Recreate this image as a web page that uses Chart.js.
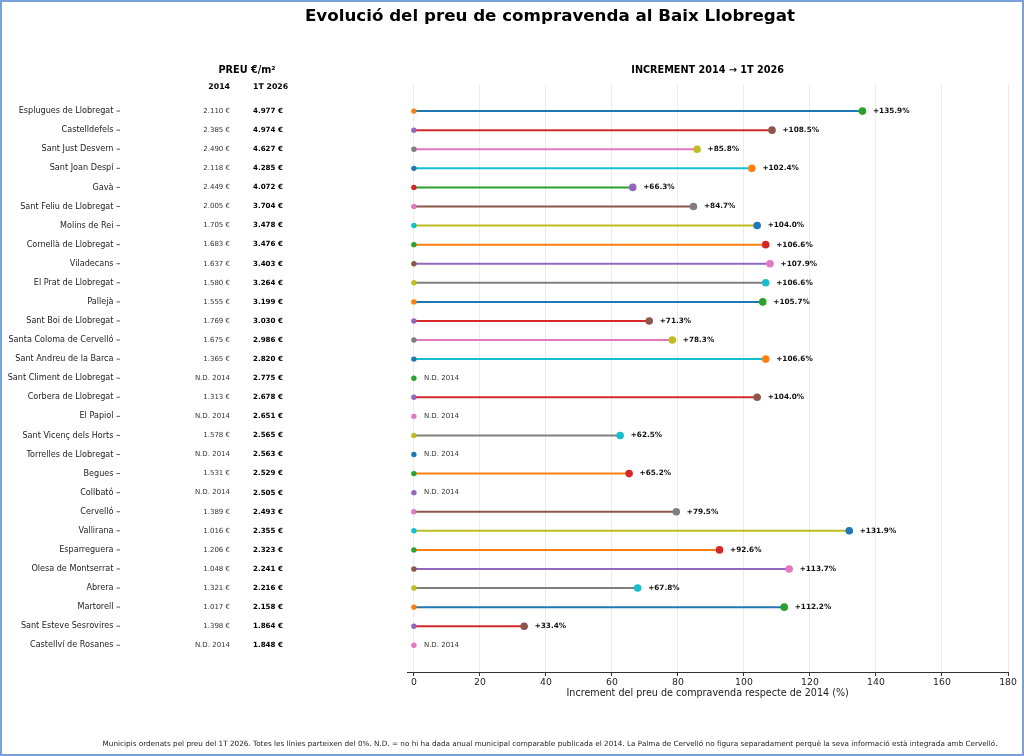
<!DOCTYPE html>
<html lang="ca">
<head>
<meta charset="UTF-8">
<title>Evolució del preu de compravenda al Baix Llobregat</title>
<style>
    html, body { margin: 0; padding: 0; background: #fff; }
    #wrap { width: 1024px; height: 756px; }
</style>
</head>
<body>
<div id="wrap"><canvas id="chart" width="1024" height="756"></canvas></div>
<script src="https://cdn.jsdelivr.net/npm/chart.js"></script>
<script>
// Municipis ordenats pel preu del 1T 2026
const municipis = [
    'Esplugues de Llobregat', 'Castelldefels', 'Sant Just Desvern', 'Sant Joan Despí', 'Gavà',
    'Sant Feliu de Llobregat', 'Molins de Rei', 'Cornellà de Llobregat', 'Viladecans', 'El Prat de Llobregat',
    'Pallejà', 'Sant Boi de Llobregat', 'Santa Coloma de Cervelló', 'Sant Andreu de la Barca', 'Sant Climent de Llobregat',
    'Corbera de Llobregat', 'El Papiol', 'Sant Vicenç dels Horts', 'Torrelles de Llobregat', 'Begues',
    'Collbató', 'Cervelló', 'Vallirana', 'Esparreguera', 'Olesa de Montserrat',
    'Abrera', 'Martorell', 'Sant Esteve Sesrovires', 'Castellví de Rosanes'
];
// preu €/m2 (null = N.D. 2014)
const preu2014 = [
    2110, 2385, 2490, 2118, 2449,
    2005, 1705, 1683, 1637, 1580,
    1555, 1769, 1675, 1365, null,
    1313, null, 1578, null, 1531,
    null, 1389, 1016, 1206, 1048,
    1321, 1017, 1398, null
];
const preu2026 = [
    4977, 4974, 4627, 4285, 4072,
    3704, 3478, 3476, 3403, 3264,
    3199, 3030, 2986, 2820, 2775,
    2678, 2651, 2565, 2563, 2529,
    2505, 2493, 2355, 2323, 2241,
    2216, 2158, 1864, 1848
];
// increment 2014 -> 1T 2026 (%)
const increment = [
    135.9, 108.5, 85.8, 102.4, 66.3,
    84.7, 104.0, 106.6, 107.9, 106.6,
    105.7, 71.3, 78.3, 106.6, null,
    104.0, null, 62.5, null, 65.2,
    null, 79.5, 131.9, 92.6, 113.7,
    67.8, 112.2, 33.4, null
];
const xTicks = [0, 20, 40, 60, 80, 100, 120, 140, 160, 180];

const FONT = "'DejaVu Sans', sans-serif";
const tab10 = ['#1f77b4', '#ff7f0e', '#2ca02c', '#d62728', '#9467bd',
               '#8c564b', '#e377c2', '#7f7f7f', '#bcbd22', '#17becf'];

Chart.defaults.font.family = FONT;

function euros(n) {
    return Math.floor(n / 1000) + '.' + String(n % 1000).padStart(3, '0') + ' €';
}

// color cycle: line, start dot, end dot (a single dot when there is no 2014 value)
let c = 0;
const datasets = municipis.map((nom, i) => {
    if (increment[i] === null) {
        const ds = {
            label: nom,
            data: [{ x: 0, y: i }],
            showLine: false,
            pointRadius: 2.7,
            pointBorderWidth: 0,
            pointBackgroundColor: tab10[c % 10]
        };
        c += 1;
        return ds;
    }
    const ds = {
        label: nom,
        data: [{ x: 0, y: i }, { x: increment[i], y: i }],
        borderColor: tab10[c % 10],
        borderWidth: 2,
        pointRadius: [2.7, 3.8],
        pointBorderWidth: 0,
        pointBackgroundColor: [tab10[(c + 1) % 10], tab10[(c + 2) % 10]]
    };
    c += 3;
    return ds;
});

const taula = {
    id: 'taula',
    afterDraw(chart) {
        const ctx = chart.ctx;
        const y = chart.scales.y;
        const area = chart.chartArea;
        ctx.save();

        // title + headers
        ctx.fillStyle = '#000';
        ctx.textBaseline = 'middle';
        ctx.textAlign = 'center';
        ctx.font = 'bold 16.7px ' + FONT;
        ctx.fillText('Evolució del preu de compravenda al Baix Llobregat', 550, 16.5);
        ctx.font = 'bold 9.7px ' + FONT;
        ctx.fillText('PREU €/m²', 247, 70.5);
        ctx.fillText('INCREMENT 2014 → 1T 2026', (area.left + area.right) / 2, 70.5);
        ctx.font = 'bold 7.8px ' + FONT;
        ctx.textAlign = 'right';
        ctx.fillText('2014', 230, 86.5);
        ctx.textAlign = 'left';
        ctx.fillText('1T 2026', 253, 86.5);

        municipis.forEach((nom, i) => {
            const py = y.getPixelForValue(i);
            // name + tick mark
            ctx.textAlign = 'right';
            ctx.font = '8.1px ' + FONT;
            ctx.fillStyle = '#222';
            ctx.fillText(nom, 113.5, py);
            ctx.strokeStyle = '#333';
            ctx.lineWidth = 0.8;
            ctx.beginPath();
            ctx.moveTo(116.5, py);
            ctx.lineTo(120, py);
            ctx.stroke();

            ctx.font = '7px ' + FONT;
            ctx.fillStyle = '#333';
            ctx.fillText(preu2014[i] === null ? 'N.D. 2014' : euros(preu2014[i]), 230, py);
            ctx.textAlign = 'left';
            ctx.font = 'bold 7.1px ' + FONT;
            ctx.fillStyle = '#000';
            ctx.fillText(euros(preu2026[i]), 253, py);

            const meta = chart.getDatasetMeta(i);
            const pt = meta.data[meta.data.length - 1];
            if (increment[i] === null) {
                ctx.font = '7px ' + FONT;
                ctx.fillStyle = '#333';
                ctx.fillText('N.D. 2014', pt.x + 10, py);
            } else {
                ctx.font = 'bold 7.3px ' + FONT;
                ctx.fillStyle = '#111';
                ctx.fillText('+' + increment[i].toFixed(1) + '%', pt.x + 10.5, py);
            }
        });

        // footer note
        ctx.font = '7.25px ' + FONT;
        ctx.fillStyle = '#222';
        ctx.textAlign = 'center';
        ctx.fillText('Municipis ordenats pel preu del 1T 2026. Totes les línies parteixen del 0%. N.D. = no hi ha dada anual municipal comparable publicada el 2014. La Palma de Cervelló no figura separadament perquè la seva informació està integrada amb Cervelló.', 550, 744);

        // frame
        ctx.strokeStyle = '#7aa0d8';
        ctx.lineWidth = 2;
        ctx.strokeRect(1, 1, 1022, 754);
        ctx.restore();
    }
};

new Chart(document.getElementById('chart'), {
    type: 'line',
    data: { datasets: datasets },
    options: {
        responsive: false,
        animation: false,
        layout: { padding: { left: 407.3, right: 16, top: 84, bottom: 0 } },
        plugins: {
            legend: { display: false },
            tooltip: { enabled: false },
            title: { display: false }
        },
        scales: {
            x: {
                type: 'linear',
                min: -2,
                max: 180,
                afterBuildTicks: s => { s.ticks = xTicks.map(v => ({ value: v })); },
                afterFit: s => { s.height = 84; },
                grid: { color: '#ececec', lineWidth: 1, tickColor: '#333', tickLength: 4 },
                border: { color: '#333', width: 1 },
                ticks: { padding: 1, color: '#222', font: { size: 9.3 }, maxRotation: 0 },
                title: {
                    display: true,
                    text: 'Increment del preu de compravenda respecte de 2014 (%)',
                    color: '#222',
                    font: { size: 9.6 },
                    padding: { top: 0, bottom: 56.8 }
                }
            },
            y: {
                type: 'linear',
                display: false,
                reverse: true,
                min: -1.42,
                max: 29.4
            }
        }
    },
    plugins: [taula]
});
</script>
</body>
</html>
